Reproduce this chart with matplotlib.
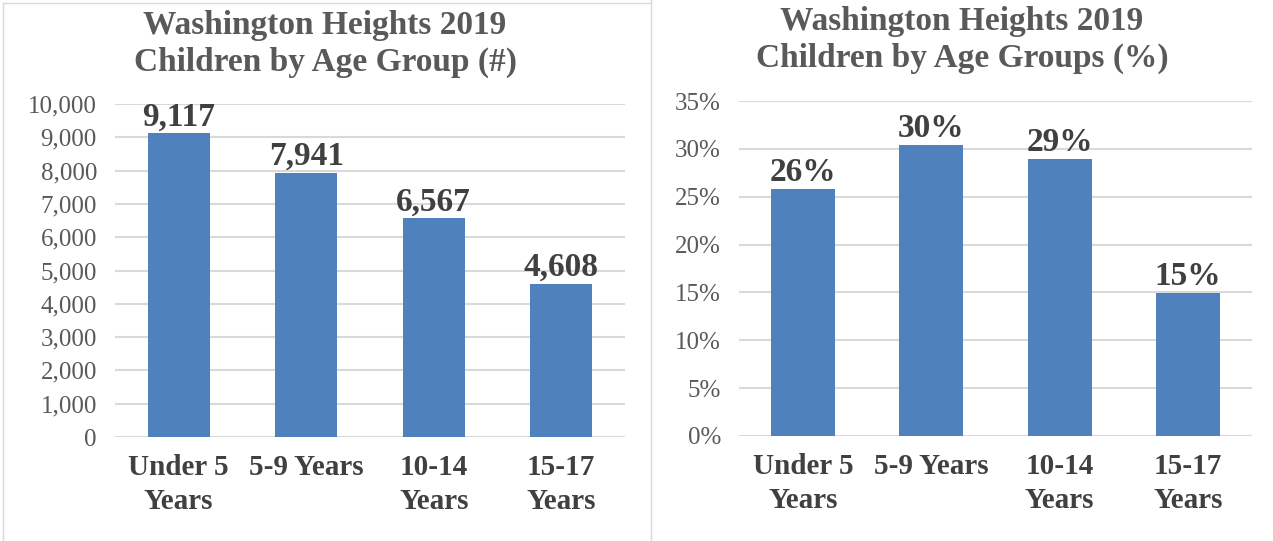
import matplotlib.pyplot as plt
from matplotlib.lines import Line2D
from matplotlib.ticker import FuncFormatter

# Data ======================================================================
categories = ["Under 5\nYears", "5-9 Years", "10-14\nYears", "15-17\nYears"]
counts = [9117, 7941, 6567, 4608]
count_labels = ["9,117", "7,941", "6,567", "4,608"]
shares = [25.8, 30.4, 28.9, 14.9]
share_labels = ["26%", "30%", "29%", "15%"]
title_left = "Washington Heights 2019\nChildren by Age Group (#)"
title_right = "Washington Heights 2019\nChildren by Age Groups (%)"

bar_color = "#4F81BD"
grid_color = "#D9D9D9"
tick_color = "#595959"
label_color = "#404040"
serif = ["Liberation Serif", "DejaVu Serif"]

W, H = 1273, 541
fig = plt.figure(figsize=(W / 100, H / 100), dpi=100)


def px_axes(x0, x1, ytop, ybot):
    return fig.add_axes([x0 / W, 1 - ybot / H, (x1 - x0) / W, (ybot - ytop) / H])


def style(ax, ymax, step, fmt):
    ax.set_xlim(-0.5, len(categories) - 0.5)
    ax.set_ylim(0, ymax)
    ax.set_yticks([i * step for i in range(int(round(ymax / step)) + 1)])
    ax.yaxis.set_major_formatter(FuncFormatter(fmt))
    ax.grid(axis="y", color=grid_color, lw=1.5)
    ax.set_axisbelow(True)
    for sp in ax.spines.values():
        sp.set_visible(False)
    ax.tick_params(axis="y", length=0, pad=13, labelcolor=tick_color)
    ax.tick_params(axis="x", length=0, pad=12)
    ax.set_xticks(range(len(categories)))
    ax.set_xticklabels(categories, fontfamily=serif, fontweight="bold",
                       fontsize=21, color=label_color, linespacing=1.35)
    for lab in ax.get_yticklabels():
        lab.set_fontfamily(serif)
        lab.set_fontsize(18)


# Left: counts
ax1 = px_axes(115, 625, 104, 437)
ax1.bar(range(len(counts)), counts, width=0.49, color=bar_color, zorder=2)
style(ax1, 10000, 1000, lambda v, p: f"{int(v):,}")
for i, (v, lab) in enumerate(zip(counts, count_labels)):
    ax1.text(i, v + 20, lab, ha="center", va="bottom", fontfamily=serif,
             fontweight="bold", fontsize=24, color=label_color)

# Right: percent
ax2 = px_axes(739, 1252, 101, 436)
ax2.bar(range(len(shares)), shares, width=0.5, color=bar_color, zorder=2)
style(ax2, 35, 5, lambda v, p: f"{int(round(v))}%")
for i, (v, lab) in enumerate(zip(shares, share_labels)):
    ax2.text(i, v + 0.1, lab, ha="center", va="bottom", fontfamily=serif,
             fontweight="bold", fontsize=24, color=label_color)

# Titles
fig.text(325 / W, 1 - 44 / H, title_left, ha="center", va="center",
         fontfamily=serif, fontweight="bold", fontsize=24, color=tick_color,
         linespacing=1.2)
fig.text(962 / W, 1 - 40 / H, title_right, ha="center", va="center",
         fontfamily=serif, fontweight="bold", fontsize=24, color=tick_color,
         linespacing=1.2)

# Chart area borders
bc = "#D9D9D9"
fig.add_artist(Line2D([3 / W, 651 / W], [1 - 3 / H, 1 - 3 / H], color=bc, lw=1))
fig.add_artist(Line2D([651 / W, 651 / W], [0, 1], color=bc, lw=1))
fig.add_artist(Line2D([3 / W, 3 / W], [0, 1 - 3 / H], color=bc, lw=1))

fig.savefig("out.png", dpi=100)
plt.close(fig)
